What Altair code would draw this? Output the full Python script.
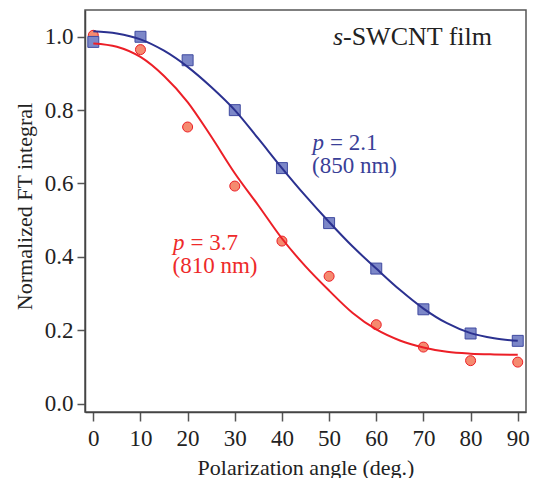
import altair as alt
import pandas as pd

# measured points
angles = [0, 10, 20, 30, 40, 50, 60, 70, 80, 90]
blue_pts = [0.986, 1.000, 0.936, 0.800, 0.642, 0.492, 0.368, 0.257, 0.191, 0.171]
red_pts = [1.004, 0.965, 0.754, 0.593, 0.443, 0.347, 0.215, 0.154, 0.117, 0.113]

# fitted curves
fit_angles = [0, 5, 10, 15, 20, 25, 30, 35, 40, 45, 50, 55, 60, 65, 70, 75, 80, 85, 90]
blue_fit = [1.015, 1.009, 0.993, 0.962, 0.918, 0.863, 0.800, 0.722, 0.642, 0.566,
            0.495, 0.428, 0.368, 0.310, 0.259, 0.219, 0.192, 0.178, 0.171]
red_fit = [0.982, 0.973, 0.945, 0.893, 0.822, 0.728, 0.628, 0.540, 0.450, 0.374,
           0.308, 0.247, 0.202, 0.172, 0.153, 0.141, 0.136, 0.134, 0.133]

x_ticks = [0, 10, 20, 30, 40, 50, 60, 70, 80, 90]
y_ticks = [0.0, 0.2, 0.4, 0.6, 0.8, 1.0]

FONT = "Liberation Serif"
BLUE_LINE = "#2b3190"
BLUE_FILL = "#7c87c8"
BLUE_EDGE = "#3f4aa0"
BLUE_TEXT = "#3a3f97"
RED_LINE = "#ec1f27"
RED_FILL = "#f58a6f"
RED_TEXT = "#ee2a2a"

pts_b = pd.DataFrame({"angle": angles, "val": blue_pts})
pts_r = pd.DataFrame({"angle": angles, "val": red_pts})
fit_b = pd.DataFrame({"angle": fit_angles, "val": blue_fit})
fit_r = pd.DataFrame({"angle": fit_angles, "val": red_fit})

xs = alt.Scale(domain=[-1.76, 91.75], nice=False, zero=False)
ys = alt.Scale(domain=[-0.023, 1.073], nice=False, zero=False)

xenc = alt.X("angle:Q", scale=xs, axis=alt.Axis(
    values=x_ticks, title="Polarization angle (deg.)", grid=False,
    tickSize=9, labelPadding=6, labelFontSize=23, labelFont=FONT, labelColor="#222",
    titleFont=FONT, titleFontSize=22, titleFontWeight="normal", titleColor="#222",
    titleBaseline="alphabetic", titleY=62,
    domainColor="#444", domainWidth=1.5, tickColor="#555", tickWidth=1.5))
yenc = alt.Y("val:Q", scale=ys, axis=alt.Axis(
    values=y_ticks, format=".1f", title="Normalized FT integral", grid=False,
    tickSize=8, labelPadding=4, labelFontSize=23, labelFont=FONT, labelColor="#222",
    titleFont=FONT, titleFontSize=22, titleFontWeight="normal", titleColor="#222",
    titleBaseline="alphabetic", titleX=-54, titleY=196,
    domainColor="#444", domainWidth=1.5, tickColor="#555", tickWidth=1.5))

red_points = alt.Chart(pts_r).mark_circle(
    size=100, fill=RED_FILL, stroke=RED_LINE, strokeWidth=1, opacity=1
).encode(x=xenc, y=yenc)
blue_points = alt.Chart(pts_b).mark_square(
    size=120, fill=BLUE_FILL, stroke=BLUE_EDGE, strokeWidth=1, opacity=1
).encode(x=xenc, y=yenc)
red_line = alt.Chart(fit_r).mark_line(
    color=RED_LINE, strokeWidth=2, interpolate="monotone"
).encode(x=xenc, y=yenc)
blue_line = alt.Chart(fit_b).mark_line(
    color=BLUE_LINE, strokeWidth=2, interpolate="monotone"
).encode(x=xenc, y=yenc)


def label(txt, x, y, color, size, style="normal"):
    return alt.Chart(pd.DataFrame({"t": [txt]})).mark_text(
        font=FONT, fontSize=size, fontStyle=style, color=color,
        align="left", baseline="alphabetic"
    ).encode(x=alt.value(x), y=alt.value(y), text="t:N")


texts = [
    label("s", 248, 35, "#222", 26, "italic"),
    label("-SWCNT film", 258, 35, "#222", 26),
    label("p", 227.5, 140, BLUE_TEXT, 23, "italic"),
    label("= 2.1", 245, 140, BLUE_TEXT, 23),
    label("(850 nm)", 227, 163, BLUE_TEXT, 23),
    label("p", 88, 239.5, RED_TEXT, 23, "italic"),
    label("= 3.7", 105.5, 239.5, RED_TEXT, 23),
    label("(810 nm)", 87.5, 262.5, RED_TEXT, 23),
]

chart = alt.layer(red_points, blue_points, red_line, blue_line, *texts).properties(
    width=441, height=402,
    padding={"left": 85, "top": 10, "right": 7, "bottom": 66},
    autosize=alt.AutoSizeParams(type="none"),
    background="white",
).configure_view(stroke="#555", strokeWidth=1.5)

chart.save("out.html", embed_options={"renderer": "svg", "actions": False})
